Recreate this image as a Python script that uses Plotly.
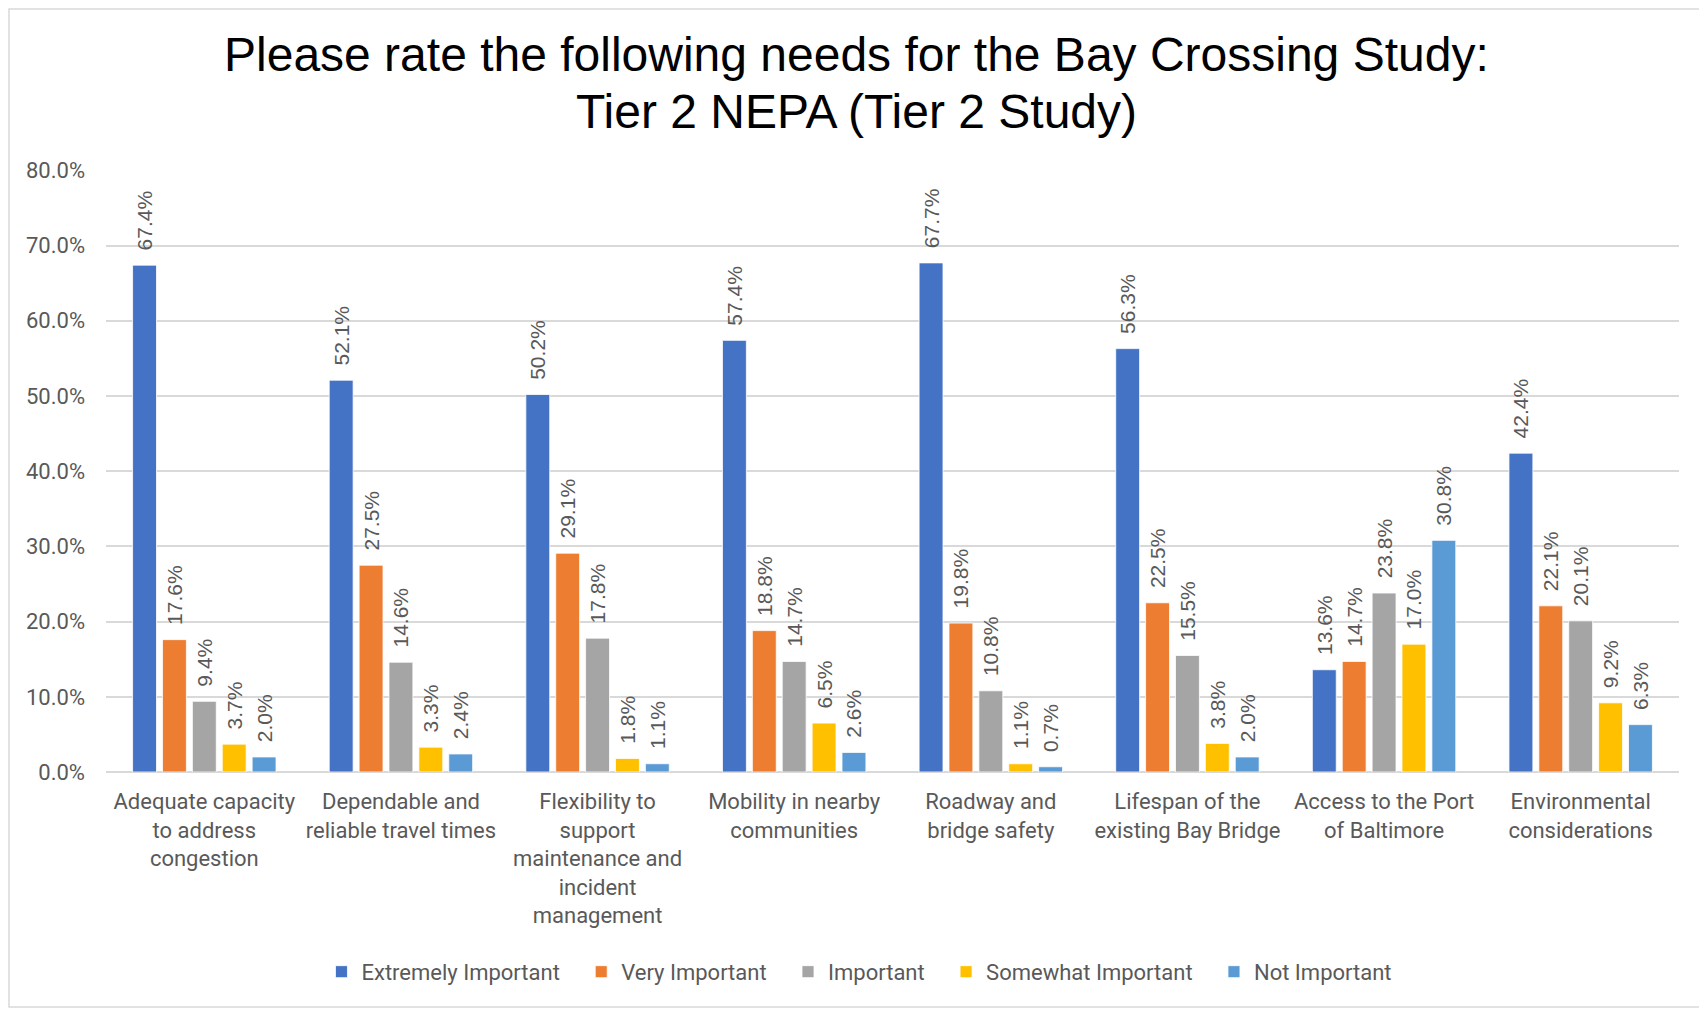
import plotly.graph_objects as go

categories = [
    "Adequate capacity<br>to address<br>congestion",
    "Dependable and<br>reliable travel times",
    "Flexibility to<br>support<br>maintenance and<br>incident<br>management",
    "Mobility in nearby<br>communities",
    "Roadway and<br>bridge safety",
    "Lifespan of the<br>existing Bay Bridge",
    "Access to the Port<br>of Baltimore",
    "Environmental<br>considerations",
]
series_names = ["Extremely Important", "Very Important", "Important",
                "Somewhat Important", "Not Important"]
extremely = [67.4, 52.1, 50.2, 57.4, 67.7, 56.3, 13.6, 42.4]
very = [17.6, 27.5, 29.1, 18.8, 19.8, 22.5, 14.7, 22.1]
important = [9.4, 14.6, 17.8, 14.7, 10.8, 15.5, 23.8, 20.1]
somewhat = [3.7, 3.3, 1.8, 6.5, 1.1, 3.8, 17.0, 9.2]
not_imp = [2.0, 2.4, 1.1, 2.6, 0.7, 2.0, 30.8, 6.3]
y_ticks = [0, 10, 20, 30, 40, 50, 60, 70, 80]
y_tick_labels = ["0.0%", "10.0%", "20.0%", "30.0%", "40.0%", "50.0%", "60.0%", "70.0%", "80.0%"]
title_line1 = "Please rate the following needs for the Bay Crossing Study:"
title_line2 = "Tier 2 NEPA (Tier 2 Study)"

colors = ["#4472C4", "#ED7D31", "#A5A5A5", "#FFC000", "#5B9BD5"]
all_series = [extremely, very, important, somewhat, not_imp]

NARROW = "Roboto, sans-serif"
LABEL_FONT = "Liberation Sans, Arial, sans-serif"
TITLE_FONT = dict(family="Liberation Sans, Arial, sans-serif", size=48, color="black")
GRAY = "#595959"

W, H = 1707, 1009
L, R, T, B = 98, 36, 162, 245
pw, ph = W - L - R, H - T - B

fig = go.Figure()
for i, (name, vals, col) in enumerate(zip(series_names, all_series, colors)):
    pad = "\u00a0\u00a0\u00a0" if i < len(series_names) - 1 else ""
    fig.add_trace(go.Bar(
        name=name + pad, x=categories, y=[v / 100 for v in vals],
        marker=dict(color=col, line=dict(color="white", width=0.8)),
        text=["\u00a0\u00a0" + f"{v:.1f}%" for v in vals],
        textposition="outside", textangle=-90, constraintext="none",
        textfont=dict(family=LABEL_FONT, size=21, color=GRAY),
        cliponaxis=False,
    ))

fig.update_layout(
    width=W, height=H,
    margin=dict(l=L, r=R, t=T, b=B),
    paper_bgcolor="white", plot_bgcolor="white",
    barmode="group", bargap=0.24, bargroupgap=0.2,
    title=dict(
        text=title_line1,
        x=0.497, xanchor="center", y=1 - 46 / H, yanchor="middle",
        font=TITLE_FONT,
    ),
    annotations=[dict(
        text=title_line2, xref="paper", yref="paper",
        x=(0.497 * W - L) / pw, xanchor="center",
        y=1 + (T - 103) / ph, yanchor="middle",
        showarrow=False, font=TITLE_FONT,
    )],
    yaxis=dict(
        range=[0, 0.8005], tickvals=[v / 100 for v in y_ticks], ticktext=y_tick_labels,
        showgrid=True, gridcolor="#d9d9d9", gridwidth=1.5,
        zeroline=True, zerolinecolor="#d9d9d9", zerolinewidth=1.5,
        showline=False, ticks="", ticklabelstandoff=20,
        tickfont=dict(family=NARROW, size=22, color=GRAY),
    ),
    xaxis=dict(
        showline=False, ticks="", showgrid=False, ticklabelstandoff=14,
        tickfont=dict(family=NARROW, size=22, color=GRAY),
        tickangle=0,
    ),
    legend=dict(
        orientation="h", x=0.479, xanchor="center", y=-0.332, yanchor="middle",
        font=dict(family=NARROW, size=22, color=GRAY),
        itemwidth=30, traceorder="normal",
    ),
    shapes=[dict(
        type="rect", xref="paper", yref="paper",
        x0=(1 - L) / pw, x1=(W - 12 - L) / pw,
        y0=-(H - 10 - T - ph) / ph,
        y1=(T - 1) / ph + 1,
        line=dict(color="#d9d9d9", width=1.5), fillcolor="rgba(0,0,0,0)", layer="below",
    )],
)

fig.write_html("out.html")
